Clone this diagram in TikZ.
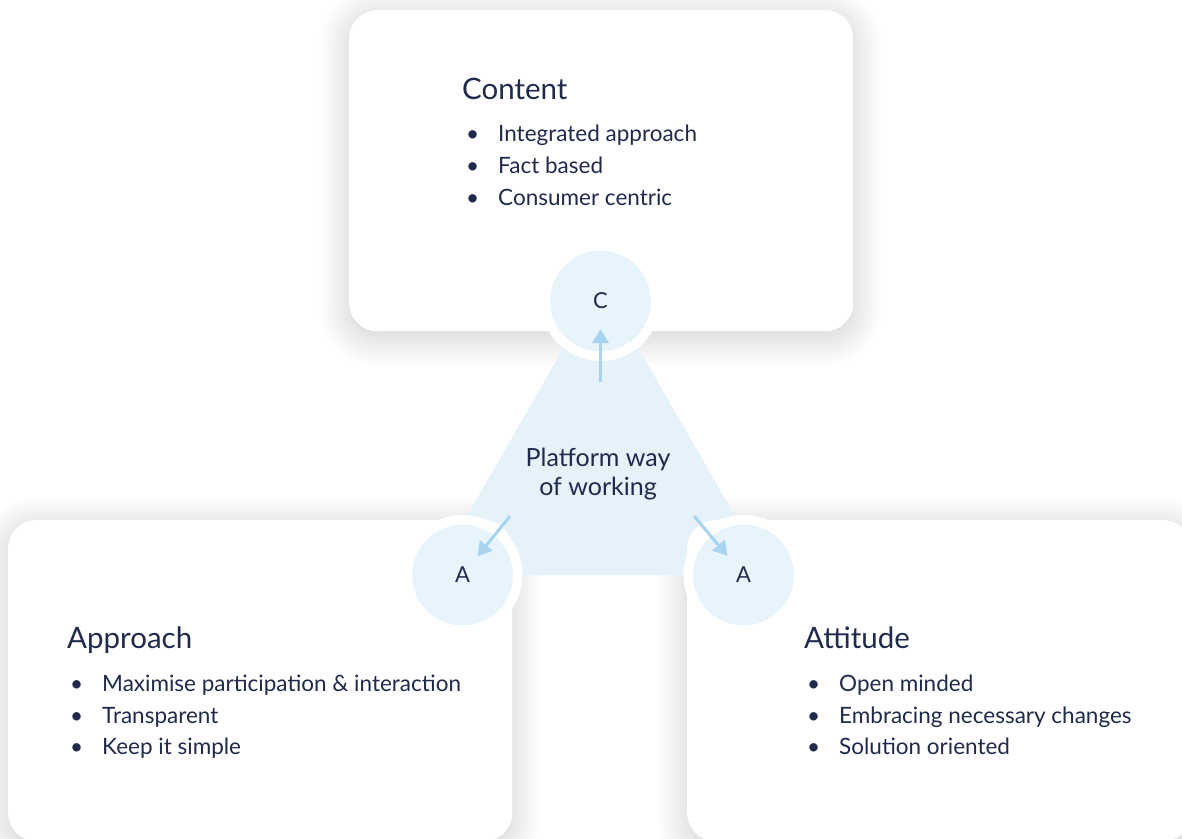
\documentclass[tikz,border=0pt]{standalone}
\usepackage{fontspec}
\setmainfont{Lato}
\usetikzlibrary{arrows.meta,shadows.blur}
\definecolor{marine}{HTML}{1F2A4D}
\definecolor{bleupale}{HTML}{E8F4FB}
\definecolor{bleutri}{HTML}{E6F2FA}
\definecolor{bleufleche}{HTML}{A8D4F1}
\newcommand{\puce}{\makebox[32pt][l]{\textbullet}}
\tikzset{
	cadre/.style={rectangle, rounded corners=28pt, fill=white, minimum width=504pt, minimum height=321pt, anchor=north west, inner sep=0pt},
	ombre/.style={rounded corners=28pt, blur shadow={shadow xshift=0pt, shadow yshift=-6pt, shadow blur radius=30pt, shadow opacity=20, shadow blur steps=16}},
	rond/.style={circle, fill=bleupale, draw=white, line width=9.5pt, minimum size=110.5pt, inner sep=0pt, text=marine, font=\fontsize{22}{26}\selectfont},
	titre/.style={anchor=base west, inner sep=0pt, text=marine, font=\fontsize{29.5}{35}\selectfont},
	liste/.style={anchor=base west, inner sep=0pt, text=marine, font=\fontsize{22.5}{27}\selectfont},
	fleche/.style={draw=bleufleche, line width=3pt, -{Triangle[length=14pt,width=16pt]}}
}
\begin{document}
\begin{tikzpicture}[x=1pt,y=-1pt]
%					Cadre de la figure :
					\useasboundingbox (0,0) rectangle (1182,838);
					\clip (0,0) rectangle (1182,838);
%					Ombres des cadres :
					\path[ombre] (349,10) rectangle +(504,321);
					\path[ombre] (8,520) rectangle +(504,321);
					\path[ombre] (687,520) rectangle +(504,321);
%					Tracé du triangle :
					\fill[bleutri] (433,575) -- (769,575) -- (601,283) -- cycle;
%					Tracé des cadres :
					\node[cadre] (contenu) at (349,10) {};
					\node[cadre] (approche) at (8,520) {};
					\node[cadre] (attitude) at (687,520) {};
%					Tracé des ronds :
					\node[rond] (C) at (600.5,301) {C};
					\node[rond] (AG) at (462.5,575) {A};
					\node[rond] (AD) at (743.5,575) {A};
%					Texte du centre :
					\node[text=marine, align=center, inner sep=0pt, font=\fontsize{25}{29}\selectfont] (pw) at (598,474) {Platform way\\of working};
%					Tracé des flèches :
					\coordinate (dC) at (600.5,382);
					\coordinate (dG) at (510,516);
					\coordinate (dD) at (694,516);
					\draw[fleche, shorten >=28pt] (dC) -- (C.center);
					\draw[fleche, shorten >=24pt] (dG) -- (AG.center);
					\draw[fleche, shorten >=25pt] (dD) -- (AD.center);
%					Content :
					\node[titre] (tc) at (462,99) {Content};
					\node[liste] (c1) at (466,141.7) {\puce Integrated approach};
					\node[liste] (c2) at (466,173) {\puce Fact based};
					\node[liste] (c3) at (466,205) {\puce Consumer centric};
%					Approach :
					\node[titre] (tap) at (67,648) {Approach};
					\node[liste] (ap1) at (70,691.7) {\puce Maximise participation \& interaction};
					\node[liste] (ap2) at (70,723) {\puce Transparent};
					\node[liste] (ap3) at (70,754) {\puce Keep it simple};
%					Attitude :
					\node[titre] (tat) at (804,648) {Attitude};
					\node[liste] (at1) at (807,691.7) {\puce Open minded};
					\node[liste] (at2) at (807,723) {\puce Embracing necessary changes};
					\node[liste] (at3) at (807,754) {\puce Solution oriented};
				\end{tikzpicture}
\end{document}
